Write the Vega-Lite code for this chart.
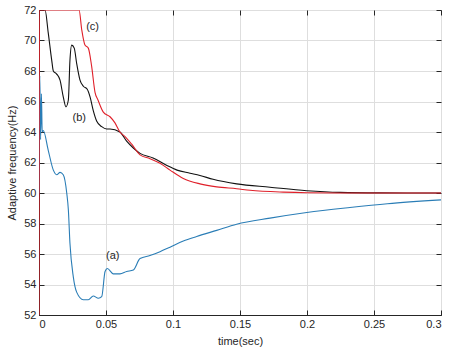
{
  "$schema": "https://vega.github.io/schema/vega-lite/v6.json",
  "width": 402,
  "height": 305,
  "autosize": {"type": "none"},
  "padding": {"left": 39, "top": 10, "right": 14, "bottom": 38},
  "background": "white",
  "config": {
    "view": {"stroke": "#262626", "strokeWidth": 1},
    "font": "Liberation Sans",
    "axis": {
      "labelFont": "Liberation Sans",
      "titleFont": "Liberation Sans",
      "labelFontSize": 11,
      "titleFontSize": 11,
      "labelColor": "#262626",
      "titleColor": "#262626",
      "titleFontWeight": "normal",
      "domainColor": "#262626",
      "tickColor": "#262626",
      "gridColor": "#dedede",
      "gridWidth": 1
    }
  },
  "datasets": {
    "curves": [
      {"t": 0, "f": 60, "s": "a"},
      {"t": 0.0006, "f": 67.7, "s": "a"},
      {"t": 0.0012, "f": 63.5, "s": "a"},
      {"t": 0.0018, "f": 66.5, "s": "a"},
      {"t": 0.0024, "f": 64.0, "s": "a"},
      {"t": 0.0032, "f": 64.1, "s": "a"},
      {"t": 0.0069, "f": 62.8, "s": "a"},
      {"t": 0.0107, "f": 61.5, "s": "a"},
      {"t": 0.0132, "f": 61.2, "s": "a"},
      {"t": 0.0157, "f": 61.35, "s": "a"},
      {"t": 0.0181, "f": 61.2, "s": "a"},
      {"t": 0.0207, "f": 60.0, "s": "a"},
      {"t": 0.0219, "f": 58.9, "s": "a"},
      {"t": 0.0231, "f": 56.7, "s": "a"},
      {"t": 0.0256, "f": 54.5, "s": "a"},
      {"t": 0.0281, "f": 53.5, "s": "a"},
      {"t": 0.0331, "f": 53.0, "s": "a"},
      {"t": 0.0368, "f": 53.0, "s": "a"},
      {"t": 0.0405, "f": 53.25, "s": "a"},
      {"t": 0.0443, "f": 53.1, "s": "a"},
      {"t": 0.0468, "f": 53.2, "s": "a"},
      {"t": 0.0493, "f": 54.85, "s": "a"},
      {"t": 0.051, "f": 55.05, "s": "a"},
      {"t": 0.0554, "f": 54.7, "s": "a"},
      {"t": 0.0604, "f": 54.7, "s": "a"},
      {"t": 0.0654, "f": 54.85, "s": "a"},
      {"t": 0.0704, "f": 54.95, "s": "a"},
      {"t": 0.0754, "f": 55.7, "s": "a"},
      {"t": 0.0828, "f": 55.9, "s": "a"},
      {"t": 0.0903, "f": 56.15, "s": "a"},
      {"t": 0.0978, "f": 56.45, "s": "a"},
      {"t": 0.1077, "f": 56.85, "s": "a"},
      {"t": 0.1177, "f": 57.15, "s": "a"},
      {"t": 0.1326, "f": 57.55, "s": "a"},
      {"t": 0.1475, "f": 57.95, "s": "a"},
      {"t": 0.1724, "f": 58.35, "s": "a"},
      {"t": 0.1998, "f": 58.72, "s": "a"},
      {"t": 0.2320, "f": 59.05, "s": "a"},
      {"t": 0.2600, "f": 59.3, "s": "a"},
      {"t": 0.3, "f": 59.55, "s": "a"},

      {"t": 0.0, "f": 72, "s": "b"},
      {"t": 0.0045, "f": 72, "s": "b"},
      {"t": 0.0069, "f": 70.5, "s": "b"},
      {"t": 0.0095, "f": 68.7, "s": "b"},
      {"t": 0.0107, "f": 68.0, "s": "b"},
      {"t": 0.0132, "f": 67.8, "s": "b"},
      {"t": 0.0157, "f": 67.4, "s": "b"},
      {"t": 0.0181, "f": 66.3, "s": "b"},
      {"t": 0.0201, "f": 65.65, "s": "b"},
      {"t": 0.0219, "f": 66.1, "s": "b"},
      {"t": 0.0231, "f": 68.7, "s": "b"},
      {"t": 0.0244, "f": 69.7, "s": "b"},
      {"t": 0.0263, "f": 69.5, "s": "b"},
      {"t": 0.0281, "f": 68.5, "s": "b"},
      {"t": 0.0306, "f": 67.4, "s": "b"},
      {"t": 0.0331, "f": 67.0, "s": "b"},
      {"t": 0.0360, "f": 66.8, "s": "b"},
      {"t": 0.0381, "f": 66.3, "s": "b"},
      {"t": 0.0405, "f": 65.4, "s": "b"},
      {"t": 0.0431, "f": 64.7, "s": "b"},
      {"t": 0.0468, "f": 64.35, "s": "b"},
      {"t": 0.0505, "f": 64.2, "s": "b"},
      {"t": 0.0530, "f": 64.2, "s": "b"},
      {"t": 0.0604, "f": 64.0, "s": "b"},
      {"t": 0.0654, "f": 63.4, "s": "b"},
      {"t": 0.0704, "f": 62.95, "s": "b"},
      {"t": 0.0754, "f": 62.6, "s": "b"},
      {"t": 0.0851, "f": 62.3, "s": "b"},
      {"t": 0.0955, "f": 61.8, "s": "b"},
      {"t": 0.1030, "f": 61.5, "s": "b"},
      {"t": 0.1127, "f": 61.3, "s": "b"},
      {"t": 0.1201, "f": 61.15, "s": "b"},
      {"t": 0.1299, "f": 60.9, "s": "b"},
      {"t": 0.1475, "f": 60.6, "s": "b"},
      {"t": 0.1724, "f": 60.38, "s": "b"},
      {"t": 0.1998, "f": 60.15, "s": "b"},
      {"t": 0.2246, "f": 60.04, "s": "b"},
      {"t": 0.2545, "f": 60.01, "s": "b"},
      {"t": 0.3, "f": 60.0, "s": "b"},

      {"t": 0, "f": 52, "s": "c"},
      {"t": 0.0003, "f": 72, "s": "c"},
      {"t": 0.0299, "f": 72, "s": "c"},
      {"t": 0.0319, "f": 70.7, "s": "c"},
      {"t": 0.0343, "f": 69.7, "s": "c"},
      {"t": 0.0368, "f": 69.5, "s": "c"},
      {"t": 0.0393, "f": 68.3, "s": "c"},
      {"t": 0.0418, "f": 66.6, "s": "c"},
      {"t": 0.0440, "f": 66.1, "s": "c"},
      {"t": 0.0480, "f": 65.3, "s": "c"},
      {"t": 0.0530, "f": 65.0, "s": "c"},
      {"t": 0.0567, "f": 64.6, "s": "c"},
      {"t": 0.0604, "f": 64.0, "s": "c"},
      {"t": 0.0642, "f": 63.7, "s": "c"},
      {"t": 0.0692, "f": 63.2, "s": "c"},
      {"t": 0.0754, "f": 62.5, "s": "c"},
      {"t": 0.0828, "f": 62.25, "s": "c"},
      {"t": 0.0903, "f": 61.95, "s": "c"},
      {"t": 0.0978, "f": 61.5, "s": "c"},
      {"t": 0.1077, "f": 60.95, "s": "c"},
      {"t": 0.1201, "f": 60.6, "s": "c"},
      {"t": 0.1326, "f": 60.4, "s": "c"},
      {"t": 0.1475, "f": 60.28, "s": "c"},
      {"t": 0.1575, "f": 60.18, "s": "c"},
      {"t": 0.1823, "f": 60.06, "s": "c"},
      {"t": 0.1998, "f": 60.02, "s": "c"},
      {"t": 0.2320, "f": 60.0, "s": "c"},
      {"t": 0.3, "f": 60.0, "s": "c"}
    ],
    "labels": [
      {"t": 0.040, "f": 70.86, "txt": "(c)"},
      {"t": 0.030, "f": 64.9, "txt": "(b)"},
      {"t": 0.055, "f": 55.87, "txt": "(a)"}
    ]
  },
  "layer": [
    {
      "data": {"name": "curves"},
      "mark": {"type": "line", "strokeWidth": 1.1, "clip": true, "interpolate": "monotone"},
      "encoding": {
        "x": {
          "field": "t", "type": "quantitative",
          "scale": {"domain": [0, 0.3], "nice": false, "zero": false},
          "axis": {
            "title": "time(sec)",
            "values": [0, 0.05, 0.1, 0.15, 0.2, 0.25, 0.3],
            "labelExpr": "format(datum.value, '~g')",
            "tickSize": -5,
            "labelPadding": 8,
            "titlePadding": 6,
            "grid": true
          }
        },
        "y": {
          "field": "f", "type": "quantitative",
          "scale": {"domain": [52, 72], "nice": false, "zero": false},
          "axis": {
            "title": "Adaptive frequency(Hz)",
            "values": [52, 54, 56, 58, 60, 62, 64, 66, 68, 70, 72],
            "tickSize": -5,
            "labelPadding": 8,
            "titlePadding": 6,
            "grid": true
          }
        },
        "color": {
          "field": "s", "type": "nominal",
          "scale": {"domain": ["a", "b", "c"], "range": ["#2a7db6", "#111111", "#e0202a"]},
          "legend": null
        },
        "order": {"field": "t", "type": "quantitative"}
      }
    },
    {
      "data": {"name": "labels"},
      "mark": {"type": "text", "fontSize": 11, "font": "Liberation Sans", "color": "#262626"},
      "encoding": {
        "x": {"field": "t", "type": "quantitative", "axis": null},
        "y": {"field": "f", "type": "quantitative", "axis": null},
        "text": {"field": "txt"}
      }
    },
    {
      "data": {"name": "labels"},
      "mark": {"type": "point", "opacity": 0},
      "encoding": {
        "x": {
          "field": "t", "type": "quantitative",
          "scale": {"domain": [0, 0.3], "nice": false, "zero": false},
          "axis": {"orient": "top", "title": null, "labels": false, "grid": false, "domain": false,
                   "values": [0, 0.05, 0.1, 0.15, 0.2, 0.25, 0.3], "tickSize": -5}
        },
        "y": {
          "field": "f", "type": "quantitative",
          "scale": {"domain": [52, 72], "nice": false, "zero": false},
          "axis": {"orient": "right", "title": null, "labels": false, "grid": false, "domain": false,
                   "values": [52, 54, 56, 58, 60, 62, 64, 66, 68, 70, 72], "tickSize": -5}
        }
      }
    }
  ],
  "resolve": {"axis": {"x": "independent", "y": "independent"}}
}
